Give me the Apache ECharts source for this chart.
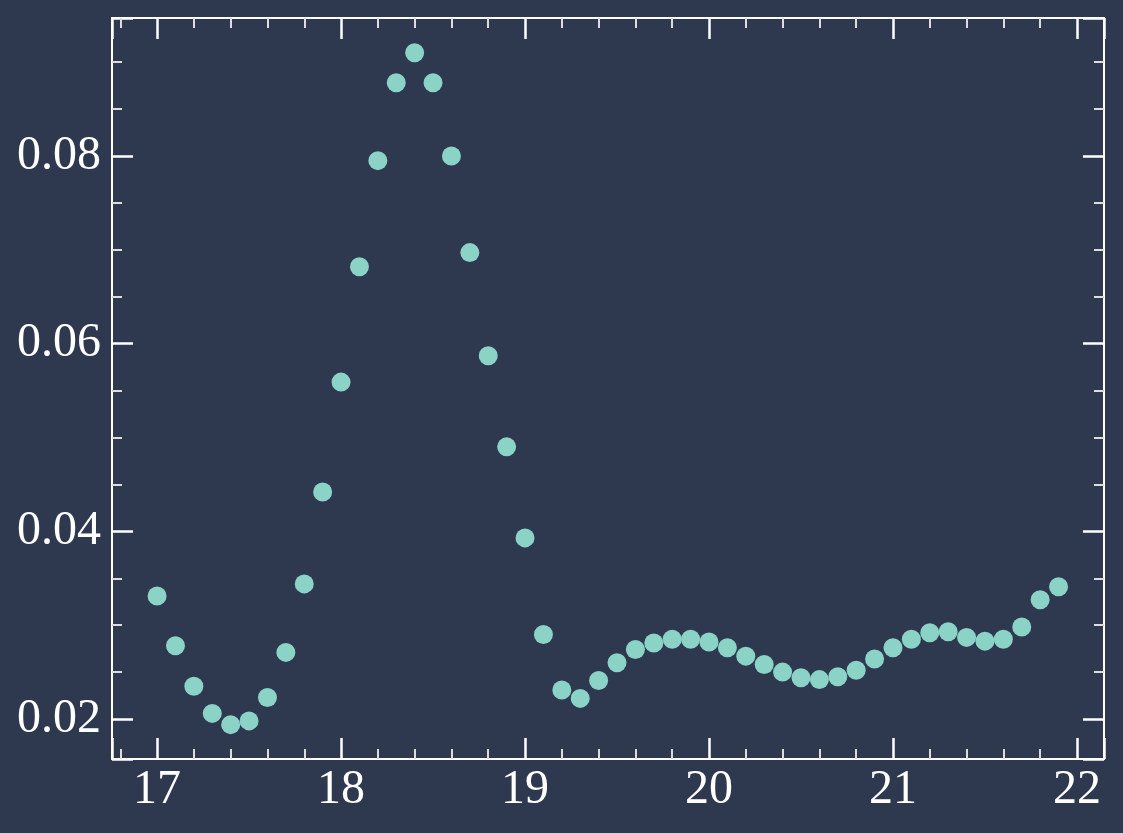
<!DOCTYPE html>
<html>
<head>
<meta charset="utf-8">
<title>scatter</title>
<script src="https://cdn.jsdelivr.net/npm/echarts@6/dist/echarts.min.js"></script>
<style>
  html, body { margin: 0; padding: 0; background: #2e3950; }
  #chart { width: 1123px; height: 833px; }
</style>
</head>
<body>
<div id="chart"></div>
<script>
// x positions (step 0.1 from 17.0 to 21.9)
const xValues = [
  17.0, 17.1, 17.2, 17.3, 17.4, 17.5, 17.6, 17.7, 17.8, 17.9,
  18.0, 18.1, 18.2, 18.3, 18.4, 18.5, 18.6, 18.7, 18.8, 18.9,
  19.0, 19.1, 19.2, 19.3, 19.4, 19.5, 19.6, 19.7, 19.8, 19.9,
  20.0, 20.1, 20.2, 20.3, 20.4, 20.5, 20.6, 20.7, 20.8, 20.9,
  21.0, 21.1, 21.2, 21.3, 21.4, 21.5, 21.6, 21.7, 21.8, 21.9
]
// values
const yValues = [
  0.0331, 0.0278, 0.0235, 0.0206, 0.0194, 0.0198, 0.0223, 0.0271, 0.0344, 0.0442,
  0.0559, 0.0682, 0.0795, 0.0878, 0.0910, 0.0878, 0.0800, 0.0697, 0.0587, 0.0490,
  0.0393, 0.0290, 0.0231, 0.0222, 0.0241, 0.0260, 0.0274, 0.0281, 0.0285, 0.0285,
  0.0282, 0.0276, 0.0267, 0.0258, 0.0250, 0.0244, 0.0242, 0.0245, 0.0252, 0.0264,
  0.0276, 0.0285, 0.0292, 0.0293, 0.0287, 0.0283, 0.0285, 0.0298, 0.0327, 0.0341
]
const xTicks = [17, 18, 19, 20, 21, 22]
const yTicks = [0.02, 0.04, 0.06, 0.08]

const fg = '#ffffff'
const font = '"Liberation Serif", "DejaVu Serif", serif'

function isTick(list, v) {
  return list.some(t => Math.abs(t - v) < 1e-9)
}

function makeAxis(pos, isX, showLabel) {
  const ticks = isX ? xTicks : yTicks
  return {
    type: 'value',
    position: pos,
    min: isX ? 16.755 : 0.01574,
    max: isX ? 22.147 : 0.0947,
    splitNumber: 5,
    axisLine: { show: true, onZero: false, lineStyle: { color: fg, width: 2 } },
    axisTick: { show: true, inside: true, length: 21, lineStyle: { color: fg, width: 2.5 } },
    minorTick: { show: true, splitNumber: isX ? 5 : 4, length: 10, lineStyle: { color: '#dddddd', width: 2 } },
    splitLine: { show: false },
    axisLabel: {
      show: showLabel,
      color: fg,
      fontFamily: font,
      fontSize: 48,
      margin: isX ? 7 : 11,
      showMinLabel: false,
      showMaxLabel: false,
      formatter: v => isTick(ticks, v) ? (isX ? String(v) : v.toFixed(2)) : ''
    }
  }
}

const chart = echarts.init(document.getElementById('chart'))
chart.setOption({
  backgroundColor: '#2e3950',
  animation: false,
  grid: { left: 112, right: 19, top: 18, bottom: 74, containLabel: false },
  xAxis: [makeAxis('bottom', true, true), makeAxis('top', true, false)],
  yAxis: [makeAxis('left', false, true), makeAxis('right', false, false)],
  series: [
    {
      type: 'scatter',
      symbolSize: 19,
      itemStyle: { color: '#8ad3c6', opacity: 1 },
      data: xValues.map((x, i) => [x, yValues[i]])
    }
  ]
})
</script>
</body>
</html>
